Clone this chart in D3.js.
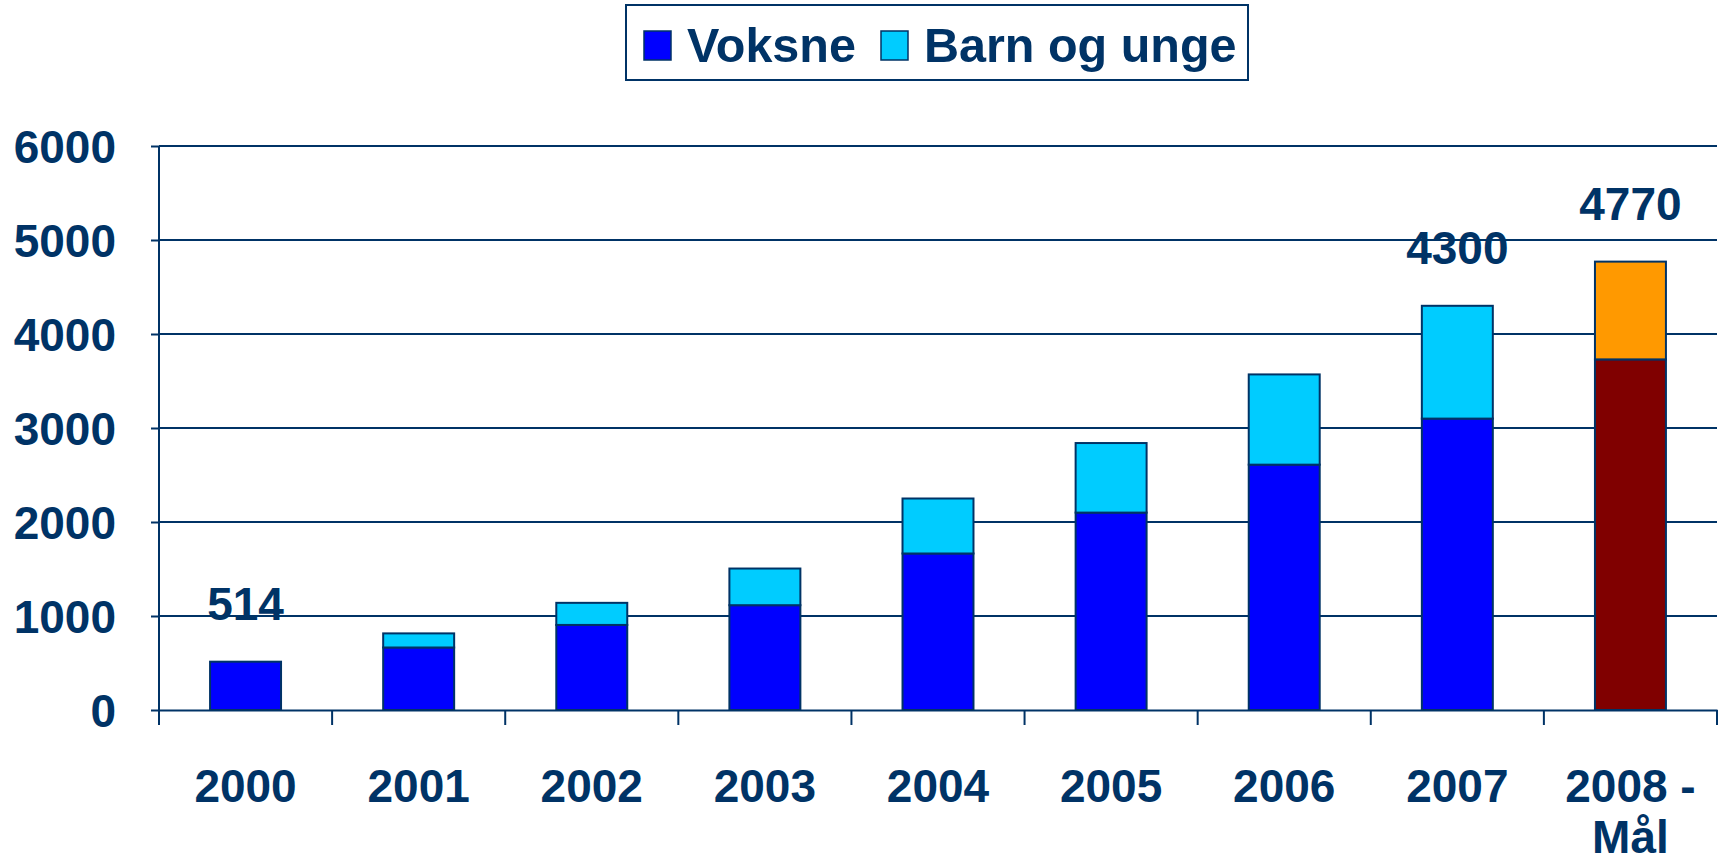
<!DOCTYPE html>
<html>
<head>
<meta charset="utf-8">
<script src="https://cdn.jsdelivr.net/npm/d3@7"></script>
<style>
  body { margin: 0; background: #fff; }
  svg text { font-family: "Liberation Sans", Arial, sans-serif; font-weight: bold; fill: #003366; }
</style>
</head>
<body>
<div id="chart"></div>
<script>
// data
var years = ["2000", "2001", "2002", "2003", "2004", "2005", "2006", "2007", "2008 -|Mål"];
var voksne = [514, 665, 905, 1115, 1665, 2100, 2610, 3100, 3730];
var barnOgUnge = [0, 150, 235, 390, 585, 740, 960, 1200, 1040];
var valueLabels = ["514", "", "", "", "", "", "", "4300", "4770"];
var yTicks = [0, 1000, 2000, 3000, 4000, 5000, 6000];

var navy = "#003366";
var colVoksne = "#0000ff", colBarn = "#00ccff";
var colMalVoksne = "#800000", colMalBarn = "#ff9900";

var W = 1720, H = 864;
var margin = {top: 146, right: 3, bottom: 154, left: 159},
    width = W - margin.left - margin.right,
    height = H - margin.top - margin.bottom;

var svg = d3.select("#chart").append("svg")
    .attr("width", W)
    .attr("height", H);

var g = svg.append("g")
    .attr("transform", "translate(" + margin.left + "," + margin.top + ")");

var xScale = d3.scaleBand()
    .domain(years)
    .range([0, width])
    .paddingInner(0.59)
    .paddingOuter(0.295);

var yScale = d3.scaleLinear()
    .domain([0, 6000])
    .range([height, 0]);

// gridlines
g.selectAll(".grid")
    .data(yTicks.filter(function(d) { return d > 0; }))
    .enter().append("line")
    .attr("x1", 0).attr("x2", width)
    .attr("y1", function(d) { return yScale(d); })
    .attr("y2", function(d) { return yScale(d); })
    .attr("stroke", navy).attr("stroke-width", 2);

// y axis
var yAxis = d3.axisLeft(yScale).tickValues(yTicks).tickFormat(d3.format("d")).tickSize(8).tickPadding(35);
var yg = g.append("g").call(yAxis);
yg.select(".domain").attr("stroke", navy).attr("stroke-width", 2).attr("d", "M0," + (height + 14) + "V0");
yg.selectAll(".tick line").attr("stroke", navy).attr("stroke-width", 2);
yg.selectAll(".tick text").style("font-size", "46px").attr("dy", "0.36em");

// x axis
var xAxis = d3.axisBottom(xScale).tickSize(0).tickFormat("");
var xg = g.append("g").attr("transform", "translate(0," + height + ")").call(xAxis);
xg.select(".domain").attr("stroke", navy).attr("stroke-width", 2);

// category separator ticks
var step = xScale.step();
g.selectAll(".sep")
    .data(d3.range(years.length + 1))
    .enter().append("line")
    .attr("x1", function(i) { return i * step; })
    .attr("x2", function(i) { return i * step; })
    .attr("y1", height).attr("y2", height + 15)
    .attr("stroke", navy).attr("stroke-width", 2);

// category labels
years.forEach(function(d) {
  var lines = d.split("|");
  var t = g.append("text")
      .attr("x", xScale(d) + xScale.bandwidth() / 2)
      .attr("y", height + 92)
      .attr("text-anchor", "middle")
      .style("font-size", "46px");
  lines.forEach(function(l, i) {
    t.append("tspan")
      .attr("x", xScale(d) + xScale.bandwidth() / 2)
      .attr("dy", i === 0 ? 0 : 51)
      .text(l);
  });
});

// stacked bars
var rows = years.map(function(d, i) {
  return {year: d, voksne: voksne[i], barn: barnOgUnge[i], mal: i === years.length - 1};
});

var bars = g.selectAll(".bar").data(rows).enter().append("g");

bars.append("rect")
    .attr("x", function(d) { return xScale(d.year); })
    .attr("width", xScale.bandwidth())
    .attr("y", function(d) { return yScale(d.voksne); })
    .attr("height", function(d) { return yScale(0) - yScale(d.voksne); })
    .attr("fill", function(d) { return d.mal ? colMalVoksne : colVoksne; })
    .attr("stroke", navy).attr("stroke-width", 2);

bars.filter(function(d) { return d.barn > 0; }).append("rect")
    .attr("x", function(d) { return xScale(d.year); })
    .attr("width", xScale.bandwidth())
    .attr("y", function(d) { return yScale(d.voksne + d.barn); })
    .attr("height", function(d) { return yScale(d.voksne) - yScale(d.voksne + d.barn); })
    .attr("fill", function(d) { return d.mal ? colMalBarn : colBarn; })
    .attr("stroke", navy).attr("stroke-width", 2);

// value labels
g.selectAll(".vlabel")
    .data(rows.map(function(d, i) { return {row: d, label: valueLabels[i]}; }).filter(function(d) { return d.label; }))
    .enter().append("text")
    .attr("x", function(d) { return xScale(d.row.year) + xScale.bandwidth() / 2; })
    .attr("y", function(d) { return yScale(d.row.voksne + d.row.barn) - 42; })
    .attr("text-anchor", "middle")
    .style("font-size", "46px")
    .text(function(d) { return d.label; });

// legend
var legend = svg.append("g").attr("transform", "translate(626,5)");
legend.append("rect")
    .attr("width", 622).attr("height", 75)
    .attr("fill", "#fff").attr("stroke", navy).attr("stroke-width", 2);

var legendItems = [
  {name: "Voksne", color: colVoksne, x: 18},
  {name: "Barn og unge", color: colBarn, x: 255}
];
legendItems.forEach(function(it) {
  legend.append("rect")
      .attr("x", it.x).attr("y", 26)
      .attr("width", 27).attr("height", 29)
      .attr("fill", it.color).attr("stroke", navy).attr("stroke-width", 1.5);
  legend.append("text")
      .attr("x", it.x + 43).attr("y", 57)
      .style("font-size", "48.5px")
      .text(it.name);
});
</script>
</body>
</html>
